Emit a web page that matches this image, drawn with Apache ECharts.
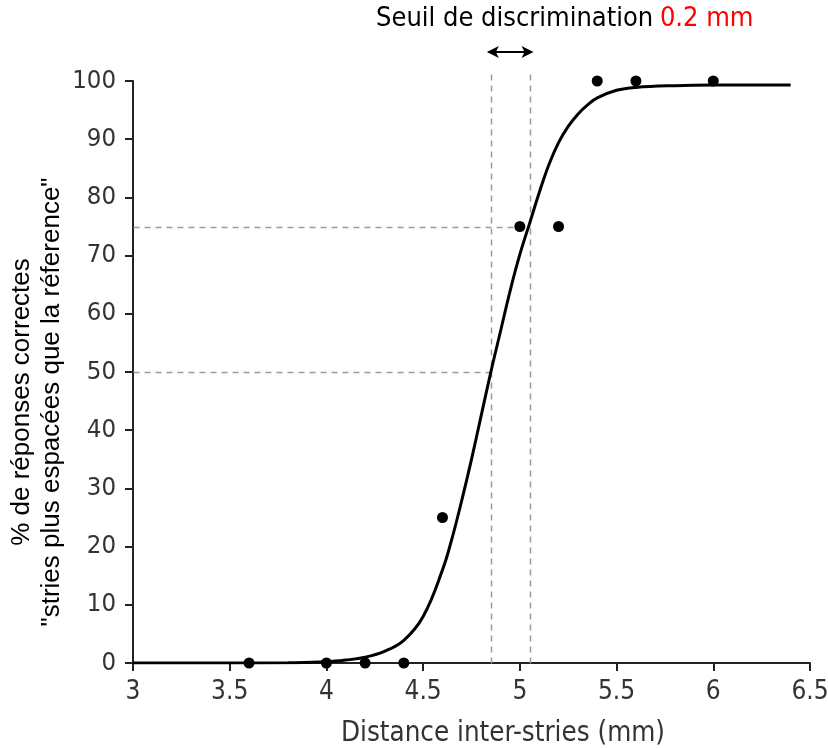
<!DOCTYPE html>
<html>
<head>
<meta charset="utf-8">
<script src="https://cdn.jsdelivr.net/npm/echarts@6/dist/echarts.min.js"></script>
<style>
html,body{margin:0;padding:0;background:#fff;}
#chart{width:828px;height:748px;}
</style>
</head>
<body>
<div id="chart"></div>
<script>
// Observed data points (distance mm, % correct)
const pointX = [3.6, 4.0, 4.2, 4.4, 4.6, 5.0, 5.2, 5.4, 5.6, 6.0];
const pointY = [0, 0, 0, 0, 25, 75, 75, 100, 100, 100];

// Fitted psychometric curve
const curveX = [3.0, 3.5, 3.8, 4.0, 4.1, 4.2, 4.3, 4.4, 4.5, 4.6, 4.65, 4.7, 4.75, 4.8, 4.85, 4.9, 4.95, 5.0, 5.05, 5.1, 5.15, 5.2, 5.25, 5.3, 5.35, 5.4, 5.5, 5.6, 5.8, 6.0, 6.4];
const curveY = [0, 0, 0.05, 0.2, 0.5, 1.0, 2.0, 3.9, 8.0, 16.0, 21.5, 28.0, 35.0, 42.5, 50.0, 57.0, 64.0, 70.2, 75.5, 80.8, 85.6, 89.4, 92.2, 94.3, 95.9, 97.1, 98.4, 98.9, 99.2, 99.3, 99.3];

// Thresholds (50 % and 75 % points)
const x50 = 4.85, x75 = 5.05;
const y50 = 50, y75 = 75;
const guideTop = 102;
const arrowY = 105;

const xTicks = {min: 3, max: 6.5, interval: 0.5};
const yTicks = {min: 0, max: 100, interval: 10};

const titleText = 'Seuil de discrimination';
const thresholdText = '0.2 mm';
const xName = 'Distance inter-stries (mm)';
const yName = '% de réponses correctes\n"stries plus espacées que la réference"';

// guide segments: [x1, y1, x2, y2, kind]
const guides = [
  [xTicks.min, y75, x75, y75, 'dash'],
  [xTicks.min, y50, x50, y50, 'dash'],
  [x50, 0, x50, guideTop, 'dash'],
  [x75, 0, x75, guideTop, 'dash'],
  [x50, arrowY, x75, arrowY, 'arrow']
];

const FONT = "'DejaVu Sans Condensed', 'DejaVu Sans', sans-serif";

const chart = echarts.init(document.getElementById('chart'), null, {renderer: 'canvas'});

function renderGuide(params, api) {
  const p1 = api.coord([api.value(0), api.value(1)]);
  const p2 = api.coord([api.value(2), api.value(3)]);
  const kind = guides[params.dataIndex][4];
  if (kind === 'dash') {
    return {
      type: 'line',
      shape: {x1: Math.round(p1[0]) + 0.5, y1: Math.round(p1[1]) + 0.5, x2: Math.round(p2[0]) + 0.5, y2: Math.round(p2[1]) + 0.5},
      style: {stroke: '#9a9a9a', lineWidth: 1.5, lineDash: [6, 5]}
    };
  }
  const ah = 12, aw = 6;
  const y = p1[1];
  const xa = p1[0] - 4, xb = p2[0] + 4;
  return {
    type: 'group',
    children: [
      {type: 'line', shape: {x1: xa + 4, y1: y, x2: xb - 4, y2: y}, style: {stroke: '#000', lineWidth: 2}},
      {type: 'polygon', shape: {points: [[xa, y], [xa + ah, y - aw], [xa + ah - 3, y], [xa + ah, y + aw]]}, style: {fill: '#000'}},
      {type: 'polygon', shape: {points: [[xb, y], [xb - ah, y - aw], [xb - ah + 3, y], [xb - ah, y + aw]]}, style: {fill: '#000'}}
    ]
  };
}

chart.setOption({
  animation: false,
  backgroundColor: '#ffffff',
  grid: {left: 133, right: 18, top: 81, bottom: 85, containLabel: false, outerBoundsMode: 'none'},
  graphic: [
    {
      type: 'text', left: 376, top: 5,
      style: {
        text: '{a|' + titleText + '}  {b|' + thresholdText + '}',
        rich: {
          a: {fontFamily: FONT, fontSize: 27, fill: '#000'},
          b: {fontFamily: FONT, fontSize: 27, fill: '#ff0000'}
        }
      }
    },
    {
      type: 'text', x: 503, y: 734,
      style: {text: xName, fontFamily: FONT, fontSize: 27.5, fill: '#333', align: 'center', verticalAlign: 'middle'}
    },
    {
      type: 'text', x: 37, y: 402, rotation: Math.PI / 2,
      style: {text: yName, fontFamily: "'Liberation Sans', Arial, sans-serif", fontSize: 26, lineHeight: 30, fill: '#000', align: 'center', verticalAlign: 'middle'}
    }
  ],
  xAxis: {
    type: 'value', min: xTicks.min, max: xTicks.max, interval: xTicks.interval,
    splitLine: {show: false},
    axisLine: {show: true, onZero: false, lineStyle: {color: '#222', width: 2}},
    axisTick: {show: true, length: 8, lineStyle: {color: '#222', width: 2}},
    axisLabel: {fontFamily: FONT, fontSize: 26, color: '#333', margin: 16}
  },
  yAxis: {
    type: 'value', min: yTicks.min, max: yTicks.max, interval: yTicks.interval,
    splitLine: {show: false},
    axisLine: {show: true, lineStyle: {color: '#222', width: 2}},
    axisTick: {show: true, length: 8, lineStyle: {color: '#222', width: 2}},
    axisLabel: {fontFamily: FONT, fontSize: 25.5, color: '#333', margin: 17}
  },
  series: [
    {
      type: 'custom', name: 'guides', silent: true, clip: false,
      renderItem: renderGuide,
      encode: {x: [0, 2], y: [1, 3]},
      data: guides.map(g => g.slice(0, 4)),
      z: 1
    },
    {
      type: 'line', name: 'curve', smooth: 0.4, showSymbol: false,
      data: curveX.map((x, i) => [x, curveY[i]]),
      lineStyle: {color: '#000', width: 3}, z: 3
    },
    {
      type: 'scatter', name: 'points', symbolSize: 11,
      data: pointX.map((x, i) => [x, pointY[i]]),
      itemStyle: {color: '#000', opacity: 1}, z: 4
    }
  ]
});
</script>
</body>
</html>
